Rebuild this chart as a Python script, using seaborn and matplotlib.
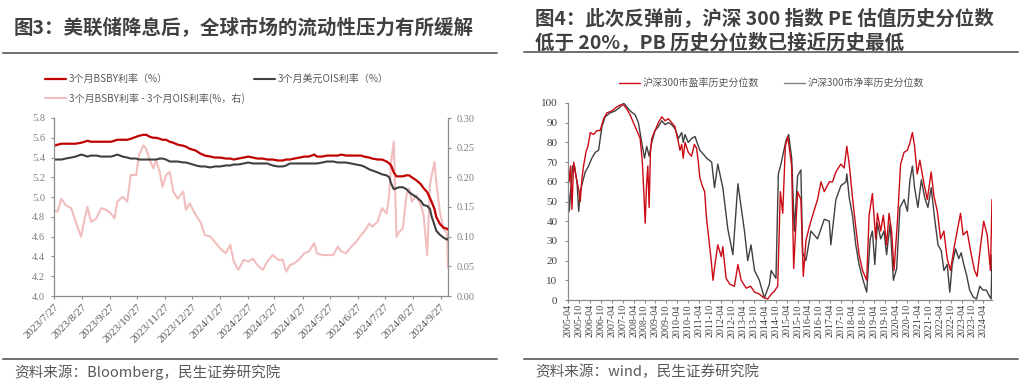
import pandas as pd
import numpy as np
import matplotlib
matplotlib.use("Agg")
import matplotlib.pyplot as plt
import seaborn as sns
from matplotlib.lines import Line2D

# ---------------- data: figure 3 (BSBY vs OIS) ----------------
left_dates = ["2023-07-27", "2023-07-31", "2023-08-04", "2023-08-09", "2023-08-15", "2023-08-20",
              "2023-08-26", "2023-08-30", "2023-09-02", "2023-09-06", "2023-09-12", "2023-09-17",
              "2023-09-23", "2023-09-28", "2023-10-02", "2023-10-05", "2023-10-11", "2023-10-16",
              "2023-10-20", "2023-10-26", "2023-10-29", "2023-11-03", "2023-11-06", "2023-11-10",
              "2023-11-14", "2023-11-17", "2023-11-21", "2023-11-24", "2023-11-28", "2023-12-02",
              "2023-12-06", "2023-12-11", "2023-12-17", "2023-12-20", "2023-12-24", "2023-12-31",
              "2024-01-05", "2024-01-10", "2024-01-16", "2024-01-21", "2024-01-27", "2024-02-02",
              "2024-02-07", "2024-02-11", "2024-02-16", "2024-02-22", "2024-02-27", "2024-03-03",
              "2024-03-08", "2024-03-14", "2024-03-19", "2024-03-25", "2024-03-31", "2024-04-05",
              "2024-04-09", "2024-04-13", "2024-04-18", "2024-04-24", "2024-04-29", "2024-05-04",
              "2024-05-10", "2024-05-13", "2024-05-19", "2024-05-24", "2024-05-31", "2024-06-05",
              "2024-06-09", "2024-06-14", "2024-06-20", "2024-06-25", "2024-07-01", "2024-07-04",
              "2024-07-10", "2024-07-13", "2024-07-19", "2024-07-24", "2024-07-29", "2024-08-01",
              "2024-08-03", "2024-08-06", "2024-08-09", "2024-08-12", "2024-08-16", "2024-08-20",
              "2024-08-23", "2024-08-26", "2024-08-31", "2024-09-05", "2024-09-08", "2024-09-12",
              "2024-09-15", "2024-09-17", "2024-09-20", "2024-09-22", "2024-09-26", "2024-09-30",
              "2024-10-04", "2024-10-05"]
bsby = [5.52, 5.53, 5.54, 5.54, 5.54, 5.54, 5.55, 5.56, 5.57, 5.56,
        5.56, 5.56, 5.56, 5.56, 5.57, 5.58, 5.58, 5.58, 5.59, 5.61,
        5.62, 5.63, 5.63, 5.61, 5.60, 5.60, 5.59, 5.58, 5.58, 5.56,
        5.55, 5.53, 5.52, 5.51, 5.49, 5.47, 5.44, 5.42, 5.41, 5.40,
        5.40, 5.39, 5.39, 5.38, 5.39, 5.40, 5.41, 5.40, 5.39, 5.39,
        5.38, 5.38, 5.37, 5.37, 5.38, 5.38, 5.39, 5.40, 5.41, 5.41,
        5.43, 5.41, 5.41, 5.42, 5.42, 5.42, 5.43, 5.42, 5.42, 5.42,
        5.42, 5.41, 5.40, 5.39, 5.38, 5.38, 5.36, 5.34, 5.32, 5.25,
        5.21, 5.21, 5.21, 5.22, 5.22, 5.20, 5.17, 5.13, 5.09, 5.05,
        4.99, 4.95, 4.88, 4.80, 4.73, 4.69, 4.68, 4.67]
ois = [5.38, 5.38, 5.38, 5.39, 5.40, 5.41, 5.43, 5.42, 5.41, 5.42,
       5.42, 5.41, 5.41, 5.41, 5.42, 5.43, 5.41, 5.40, 5.39, 5.39,
       5.38, 5.38, 5.38, 5.38, 5.38, 5.38, 5.39, 5.39, 5.38, 5.36,
       5.36, 5.36, 5.35, 5.35, 5.34, 5.32, 5.31, 5.31, 5.30, 5.31,
       5.31, 5.32, 5.32, 5.33, 5.33, 5.34, 5.35, 5.34, 5.34, 5.34,
       5.34, 5.32, 5.31, 5.31, 5.32, 5.34, 5.34, 5.34, 5.34, 5.34,
       5.34, 5.34, 5.35, 5.36, 5.36, 5.35, 5.35, 5.35, 5.34, 5.33,
       5.32, 5.31, 5.28, 5.27, 5.25, 5.23, 5.22, 5.20, 5.14, 5.08,
       5.09, 5.10, 5.10, 5.08, 5.05, 5.03, 5.00, 4.96, 4.92, 4.91,
       4.88, 4.80, 4.72, 4.66, 4.62, 4.59, 4.57, 4.58]
spread = [0.145, 0.142, 0.164, 0.153, 0.148, 0.125, 0.100, 0.131, 0.150, 0.125,
          0.131, 0.148, 0.145, 0.139, 0.131, 0.159, 0.167, 0.159, 0.204, 0.204,
          0.237, 0.254, 0.248, 0.229, 0.215, 0.229, 0.209, 0.184, 0.204, 0.209,
          0.176, 0.164, 0.176, 0.145, 0.156, 0.136, 0.125, 0.103, 0.100, 0.091,
          0.080, 0.072, 0.086, 0.058, 0.044, 0.061, 0.058, 0.063, 0.052, 0.044,
          0.058, 0.069, 0.061, 0.061, 0.041, 0.052, 0.055, 0.063, 0.072, 0.075,
          0.089, 0.072, 0.069, 0.069, 0.069, 0.083, 0.075, 0.072, 0.083, 0.091,
          0.103, 0.108, 0.122, 0.117, 0.125, 0.148, 0.139, 0.170, 0.226, 0.260,
          0.100, 0.108, 0.114, 0.170, 0.181, 0.159, 0.170, 0.153, 0.136, 0.069,
          0.187, 0.204, 0.226, 0.192, 0.142, 0.114, 0.105, 0.047]
left_xticklabels = ["2023/7/27", "2023/8/27", "2023/9/27", "2023/10/27", "2023/11/27", "2023/12/27",
                    "2024/1/27", "2024/2/27", "2024/3/27", "2024/4/27", "2024/5/27", "2024/6/27",
                    "2024/7/27", "2024/8/27", "2024/9/27"]
left_yticks = [4.0, 4.2, 4.4, 4.6, 4.8, 5.0, 5.2, 5.4, 5.6, 5.8]
right_yticks = [0.00, 0.05, 0.10, 0.15, 0.20, 0.25, 0.30]

# ---------------- data: figure 4 (CSI 300 PE / PB percentile) ----------------
pe_t = [2005.25, 2005.31, 2005.37, 2005.43, 2005.51, 2005.58, 2005.66, 2005.74, 2005.81, 2005.89,
        2005.96, 2006.07, 2006.16, 2006.27, 2006.42, 2006.57, 2006.72, 2006.88, 2007.03, 2007.26,
        2007.48, 2007.64, 2007.79, 2007.94, 2008.09, 2008.24, 2008.40, 2008.55, 2008.65, 2008.72,
        2008.78, 2008.84, 2008.90, 2008.96, 2009.02, 2009.08, 2009.23, 2009.38, 2009.54, 2009.69,
        2009.84, 2009.99, 2010.14, 2010.30, 2010.37, 2010.45, 2010.52, 2010.60, 2010.75, 2010.90,
        2011.03, 2011.13, 2011.21, 2011.28, 2011.39, 2011.50, 2011.58, 2011.65, 2011.72, 2011.80,
        2011.88, 2011.97, 2012.10, 2012.26, 2012.33, 2012.48, 2012.65, 2012.86, 2013.02, 2013.17,
        2013.40, 2013.60, 2013.78, 2014.00, 2014.16, 2014.38, 2014.55, 2014.69, 2014.84, 2014.96,
        2015.07, 2015.19, 2015.30, 2015.48, 2015.57, 2015.75, 2015.90, 2016.01, 2016.13, 2016.28,
        2016.44, 2016.66, 2016.82, 2016.97, 2017.20, 2017.35, 2017.50, 2017.73, 2017.88, 2018.00,
        2018.11, 2018.26, 2018.41, 2018.56, 2018.72, 2018.91, 2019.02, 2019.17, 2019.32, 2019.40,
        2019.55, 2019.67, 2019.82, 2019.93, 2020.05, 2020.16, 2020.31, 2020.46, 2020.62, 2020.77,
        2020.89, 2021.00, 2021.10, 2021.22, 2021.34, 2021.53, 2021.68, 2021.86, 2021.98, 2022.14,
        2022.29, 2022.44, 2022.59, 2022.74, 2022.93, 2023.08, 2023.20, 2023.32, 2023.50, 2023.66,
        2023.84, 2023.96, 2024.11, 2024.26, 2024.42, 2024.57, 2024.64]
pe_pct = [70, 60, 68, 46, 70, 65, 60, 56, 50, 62,
          68, 75, 78, 85, 84, 86, 86, 92, 95, 96,
          98, 99, 99, 97, 94, 90, 86, 82, 70, 54,
          39, 58, 68, 47, 75, 82, 86, 90, 93, 91,
          92, 90, 88, 80, 76, 79, 72, 80, 75, 73,
          79, 77, 70, 62, 58, 55, 42, 35, 28, 20,
          10, 18, 28, 22, 27, 11, 8, 7, 18, 10,
          6, 7, 4, 3, 1.5, 0.5, 3, 4.5, 7, 55,
          44, 78, 83, 68, 16, 55, 51, 12, 30, 37,
          43, 51, 60, 55, 60, 60, 65, 69, 67, 78,
          69, 52, 37, 23, 15, 10, 43, 54, 31, 44,
          35, 43, 28, 44, 35, 15, 39, 69, 75, 76,
          80, 85, 78, 64, 71, 59, 51, 65, 53, 45,
          31, 35, 21, 15, 28, 37, 44, 33, 35, 25,
          15, 12, 27, 40, 33, 15, 51]
pb_t = [2005.25, 2005.31, 2005.37, 2005.46, 2005.55, 2005.66, 2005.74, 2005.81, 2005.92, 2006.04,
        2006.19, 2006.34, 2006.50, 2006.65, 2006.80, 2006.95, 2007.18, 2007.41, 2007.64, 2007.79,
        2007.94, 2008.09, 2008.32, 2008.47, 2008.62, 2008.75, 2008.85, 2008.96, 2009.08, 2009.23,
        2009.38, 2009.54, 2009.69, 2009.84, 2009.99, 2010.14, 2010.30, 2010.45, 2010.52, 2010.60,
        2010.75, 2010.90, 2011.06, 2011.15, 2011.28, 2011.44, 2011.59, 2011.82, 2011.95, 2012.10,
        2012.33, 2012.56, 2012.79, 2013.02, 2013.32, 2013.47, 2013.62, 2013.78, 2014.00, 2014.23,
        2014.46, 2014.54, 2014.76, 2014.87, 2014.99, 2015.22, 2015.34, 2015.48, 2015.60, 2015.75,
        2015.90, 2015.98, 2016.13, 2016.36, 2016.66, 2016.97, 2017.20, 2017.27, 2017.50, 2017.73,
        2017.96, 2018.00, 2018.11, 2018.26, 2018.41, 2018.56, 2018.72, 2018.91, 2019.07, 2019.17,
        2019.28, 2019.40, 2019.55, 2019.70, 2019.82, 2019.98, 2020.13, 2020.28, 2020.43, 2020.62,
        2020.77, 2020.89, 2021.00, 2021.10, 2021.25, 2021.41, 2021.56, 2021.71, 2021.86, 2022.01,
        2022.17, 2022.32, 2022.44, 2022.59, 2022.71, 2022.82, 2022.97, 2023.12, 2023.23, 2023.35,
        2023.47, 2023.62, 2023.78, 2023.93, 2024.08, 2024.23, 2024.38, 2024.52, 2024.60, 2024.64]
pb_pct = [60, 45, 55, 68, 68, 60, 45, 55, 60, 65,
          68, 72, 75, 76, 88, 93, 95, 96, 98, 100,
          98, 96, 94, 90, 80, 72, 78, 73, 80, 86,
          88, 91, 89, 90, 89, 87, 82, 85, 80, 84,
          80, 82, 83, 80, 76, 74, 72, 70, 57, 69,
          57, 36, 23, 59, 35, 20, 28, 15, 10, 1,
          8, 15, 11, 64, 69, 81, 84, 72, 35, 63,
          66, 24, 20, 35, 31, 41, 40, 28, 51, 58,
          60, 64, 52, 43, 28, 18, 11, 4, 31, 35,
          18, 39, 31, 35, 23, 39, 10, 16, 47, 51,
          45, 61, 68, 57, 47, 61, 52, 47, 57, 42,
          28, 25, 15, 18, 4, 18, 26, 21, 24, 18,
          13, 5, 1.5, 0.5, 7, 5, 5, 2, 0.5, 23]
right_xticklabels = [f"{y}-{m}" for y in range(2005, 2025) for m in ("04", "10")][:-1]
pct_yticks = [0, 10, 20, 30, 40, 50, 60, 70, 80, 90, 100]

title3 = "图3：美联储降息后，全球市场的流动性压力有所缓解"
title4_l1 = "图4：此次反弹前，沪深 300 指数 PE 估值历史分位数"
title4_l2 = "低于 20%，PB 历史分位数已接近历史最低"
source3 = "资料来源：Bloomberg，民生证券研究院"
source4 = "资料来源：wind，民生证券研究院"

RED = "#C00000"
DARK = "#404040"
PINK = "#F2BDBD"
PE_RED = "#CC0A14"
SPINE = "#8C8C8C"
TXT = "#595959"
SERIF = "Liberation Serif"

sns.set_style("ticks")
plt.rcParams["font.family"] = ["Noto Sans CJK SC", "DejaVu Sans"]

fig = plt.figure(figsize=(10.24, 3.86), dpi=100)

# ---------------- left chart ----------------
df3 = pd.DataFrame({"date": pd.to_datetime(left_dates), "bsby": bsby, "ois": ois, "spread": spread})

ax1 = fig.add_axes([54 / 1024, 1 - 296 / 386, 394 / 1024, 178 / 386])
ax2 = ax1.twinx()
sns.lineplot(data=df3, x="date", y="spread", ax=ax2, color=PINK, linewidth=1.5, legend=False)
sns.lineplot(data=df3, x="date", y="ois", ax=ax1, color=DARK, linewidth=1.5, legend=False)
sns.lineplot(data=df3, x="date", y="bsby", ax=ax1, color=RED, linewidth=1.6, legend=False)
ax1.set_zorder(ax2.get_zorder() + 1)
ax1.patch.set_visible(False)

ax1.set_xlim(pd.Timestamp("2023-07-27"), pd.Timestamp("2024-10-05"))
ax1.set_ylim(4.0, 5.8)
ax2.set_ylim(0, 0.30)
ax1.set_xticks(pd.to_datetime(left_xticklabels, format="%Y/%m/%d"))
ax1.set_xticklabels(left_xticklabels, rotation=45, ha="right", va="top", rotation_mode="anchor",
                    fontfamily=SERIF, fontsize=8, color=TXT)
ax1.set_yticks(left_yticks)
ax1.set_yticklabels([f"{v:.1f}" for v in left_yticks], fontfamily=SERIF, fontsize=7.5, color="#7f7f7f")
ax2.set_yticks(right_yticks)
ax2.set_yticklabels([f"{v:.2f}" for v in right_yticks], fontfamily=SERIF, fontsize=7.5, color="#7f7f7f")
for a in (ax1, ax2):
    a.set_xlabel("")
    a.set_ylabel("")
    a.spines["top"].set_visible(False)
    for s in a.spines.values():
        s.set_color(SPINE)
        s.set_linewidth(0.9)
ax1.spines["right"].set_visible(False)
ax2.spines["left"].set_visible(False)
ax2.spines["bottom"].set_visible(False)
ax1.tick_params(axis="y", length=2.5, width=0.8, color=SPINE, pad=4)
ax1.tick_params(axis="x", length=2.5, width=0.8, color=SPINE, pad=2)
ax2.tick_params(axis="y", length=2.5, width=0.8, color=SPINE, pad=4)

h3 = [Line2D([], [], color=RED, lw=1.6), Line2D([], [], color=PINK, lw=1.5), Line2D([], [], color=DARK, lw=1.5)]
l3 = ["3个月BSBY利率（%）", "3个月BSBY利率 - 3个月OIS利率(%，右)", "3个月美元OIS利率（%）"]
fig.legend(h3, l3, loc="upper left", bbox_to_anchor=(45 / 1024, 1 - 74 / 386), ncol=2, frameon=False,
           fontsize=7.2, labelcolor=TXT, handlelength=2.1, handletextpad=0.3, columnspacing=0.9,
           labelspacing=0.9, borderpad=0, borderaxespad=0)

# ---------------- right chart ----------------
df_pe = pd.DataFrame({"t": pe_t, "pct": pe_pct})
df_pb = pd.DataFrame({"t": pb_t, "pct": pb_pct})

ax3 = fig.add_axes([568 / 1024, 1 - 300 / 386, 424 / 1024, 197 / 386])
sns.lineplot(data=df_pb, x="t", y="pct", ax=ax3, color=DARK, linewidth=1.0, legend=False)
sns.lineplot(data=df_pe, x="t", y="pct", ax=ax3, color=PE_RED, linewidth=1.0, legend=False)
ax3.set_xlim(2005.25, 2024.64)
ax3.set_ylim(0, 100)
tick_pos = [int(s[:4]) + (int(s[5:]) - 1) / 12 for s in right_xticklabels]
ax3.set_xticks(tick_pos)
ax3.set_xticklabels(right_xticklabels, rotation=90, ha="center", va="top",
                    fontfamily=SERIF, fontsize=7.2, color="#404040")
ax3.set_yticks(pct_yticks)
ax3.set_yticklabels([str(v) for v in pct_yticks], fontfamily=SERIF, fontsize=8, color="#404040")
ax3.set_xlabel("")
ax3.set_ylabel("")
ax3.spines["top"].set_visible(False)
ax3.spines["right"].set_visible(False)
for s in ax3.spines.values():
    s.set_color(SPINE)
    s.set_linewidth(0.9)
ax3.tick_params(axis="y", length=2.5, width=0.8, color=SPINE, pad=5)
ax3.tick_params(axis="x", length=2, width=0.8, color=SPINE, pad=1)

h4 = [Line2D([], [], color=PE_RED, lw=1.0), Line2D([], [], color="#7f7f7f", lw=1.0)]
l4 = ["沪深300市盈率历史分位数", "沪深300市净率历史分位数"]
fig.legend(h4, l4, loc="upper left", bbox_to_anchor=(619 / 1024, 1 - 78 / 386), ncol=2, frameon=False,
           fontsize=7.2, labelcolor=TXT, handlelength=2.1, handletextpad=0.3, columnspacing=2.4,
           borderpad=0, borderaxespad=0)

# ---------------- titles, rules, sources ----------------
fig.text(14 / 1024, 1 - 28 / 386, title3, fontsize=14, fontweight="bold", color=DARK, ha="left", va="center")
fig.text(535 / 1024, 1 - 18 / 386, title4_l1, fontsize=14, fontweight="bold", color=DARK, ha="left", va="center")
fig.text(535 / 1024, 1 - 42 / 386, title4_l2, fontsize=14, fontweight="bold", color=DARK, ha="left", va="center")
for x0, x1, y in [(3, 497, 52.5), (524, 1018, 52), (3, 497, 359), (524, 1018, 359)]:
    fig.add_artist(Line2D([x0 / 1024, x1 / 1024], [1 - y / 386, 1 - y / 386], color="#707070", lw=1.4))
fig.text(14 / 1024, 1 - 372 / 386, source3, fontsize=10.5, color=TXT, ha="left", va="center")
fig.text(535 / 1024, 1 - 372 / 386, source4, fontsize=10.5, color=TXT, ha="left", va="center")

fig.savefig("out.png", dpi=100, facecolor="white")
